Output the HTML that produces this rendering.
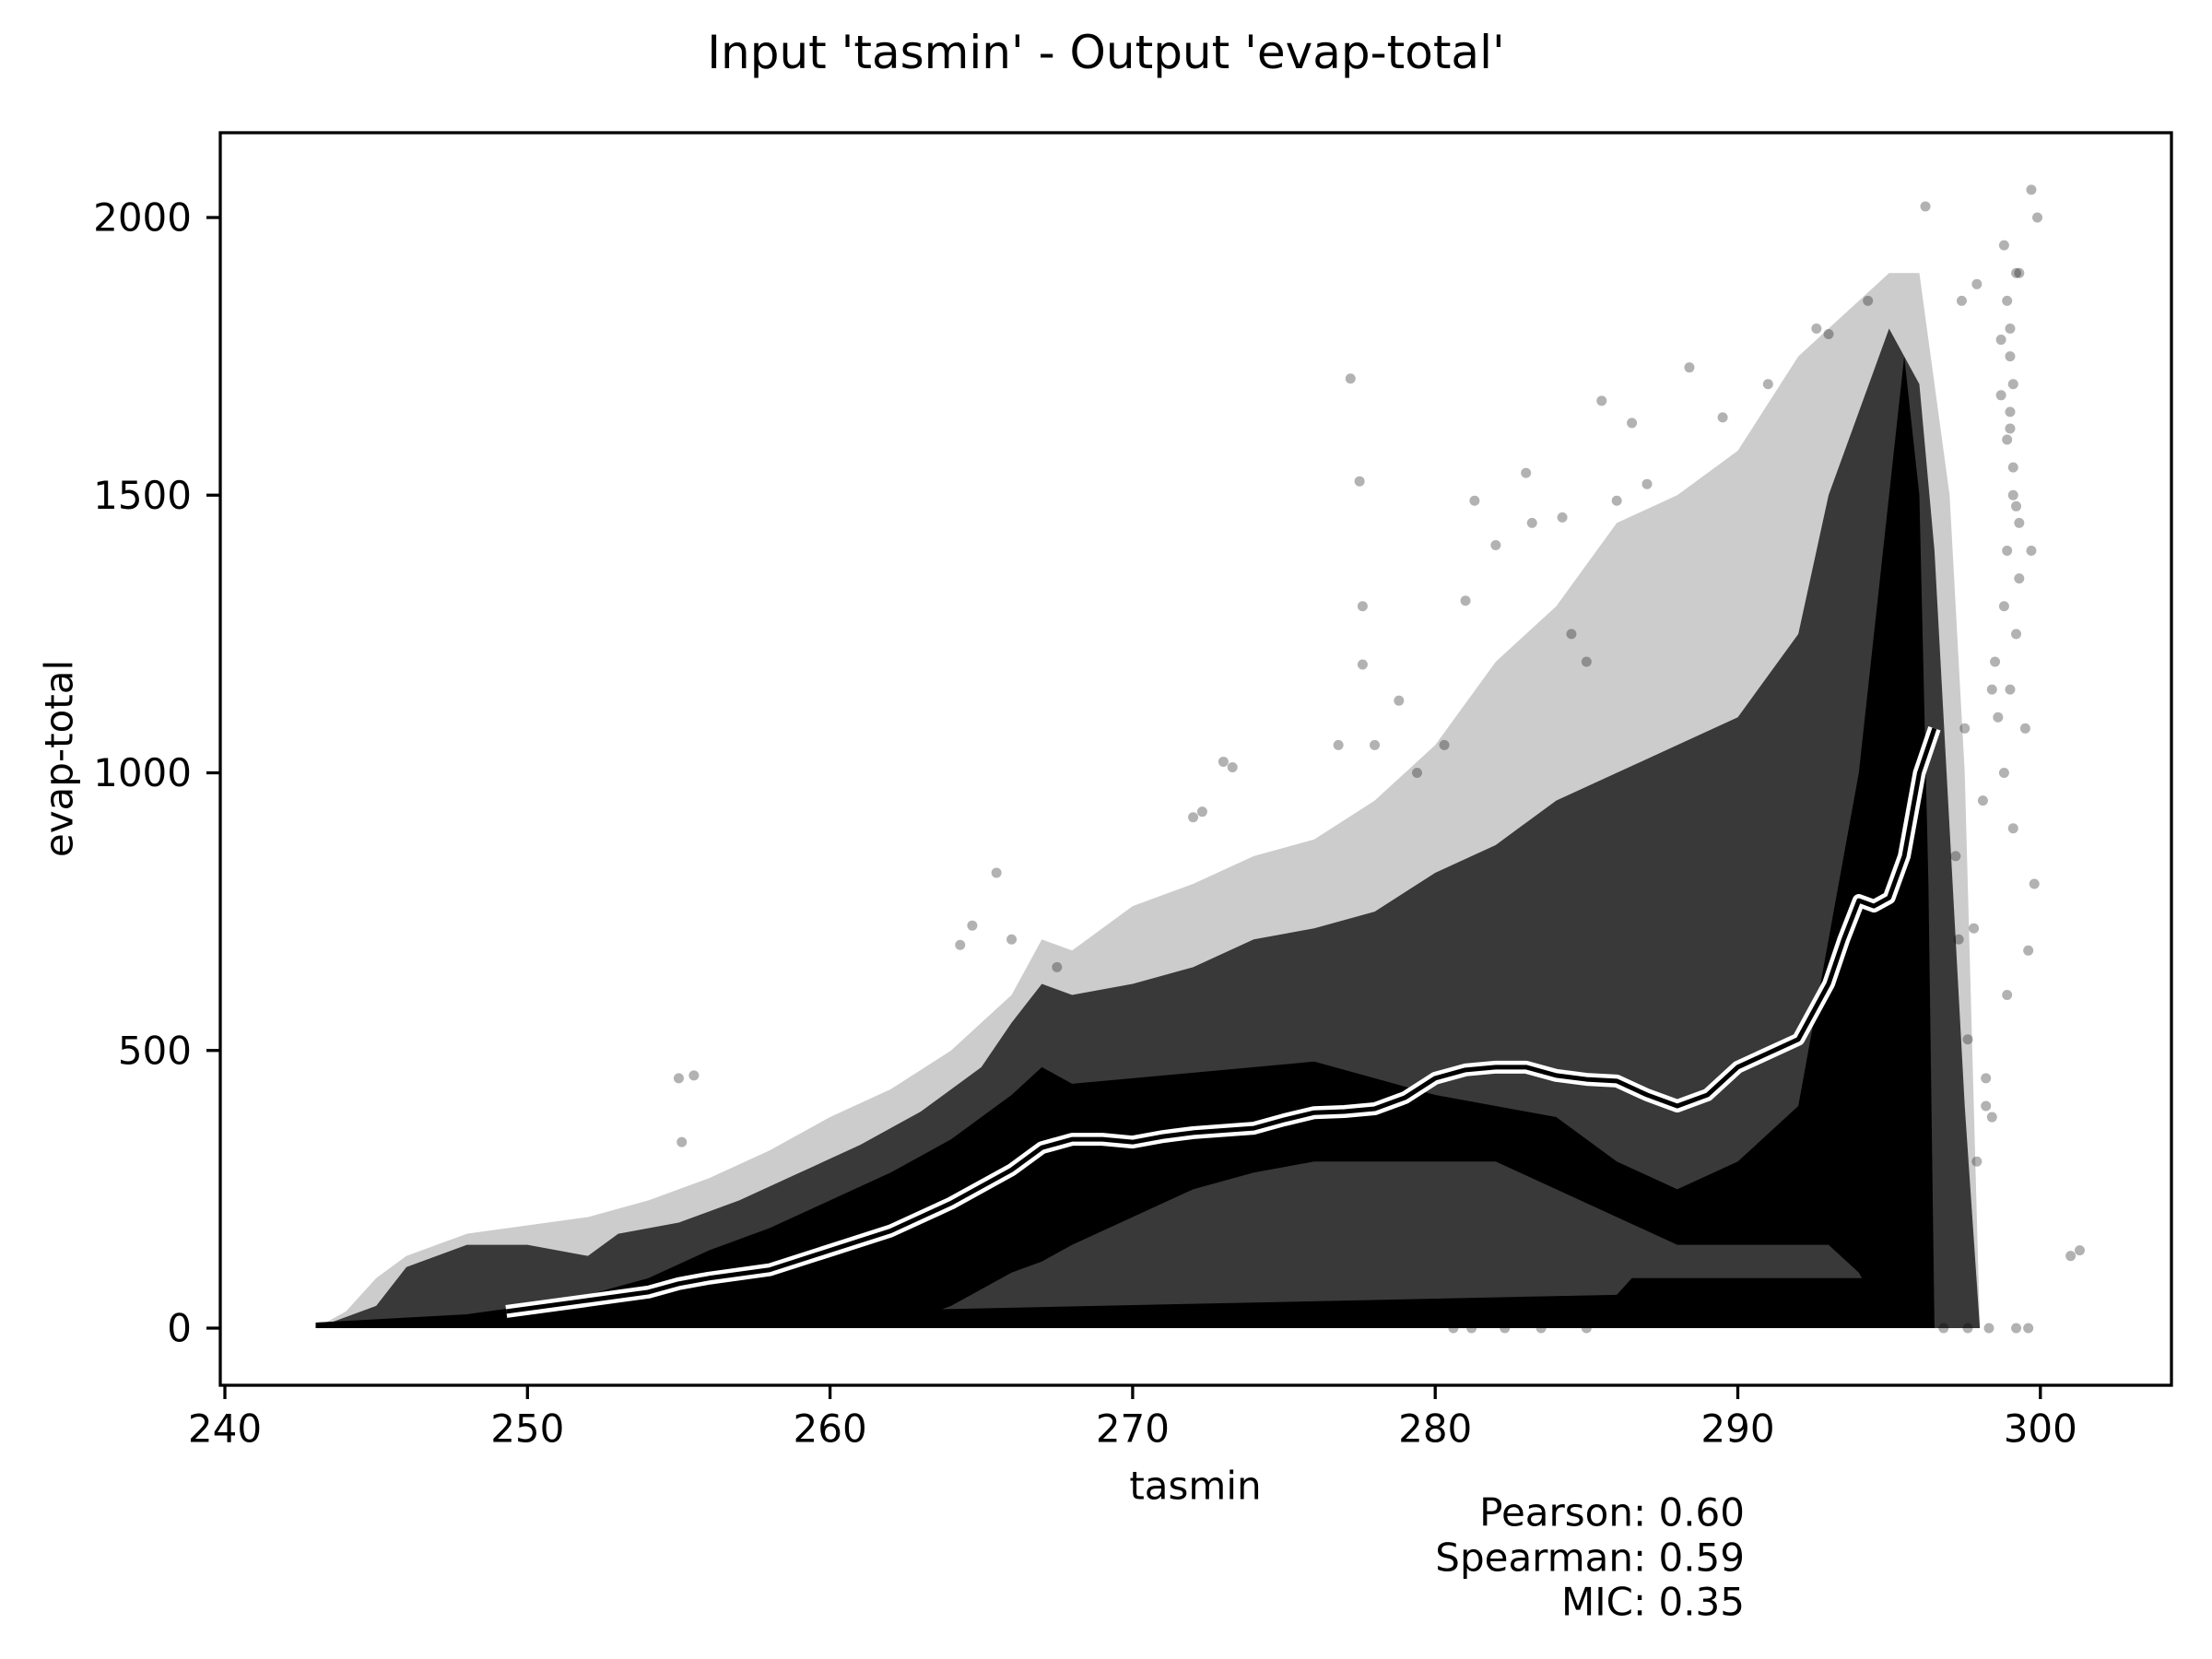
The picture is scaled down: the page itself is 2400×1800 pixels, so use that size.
<!DOCTYPE html>
<html><head><meta charset="utf-8"><style>
html,body{margin:0;padding:0;background:#fff;}
svg{display:block;font-family:"DejaVu Sans","Liberation Sans",sans-serif;}
</style></head><body>
<svg id="chart" width="2400" height="1800" viewBox="0 0 2400 1800" xmlns="http://www.w3.org/2000/svg">
<rect width="2400" height="1800" fill="#fff"/>
<text x="1200" y="57" font-size="50" text-anchor="middle" dominant-baseline="central">Input 'tasmin' - Output 'evap-total'</text>
<defs><clipPath id="clip"><rect x="239" y="144" width="2117" height="1359"/></clipPath></defs>
<g id="plot" clip-path="url(#clip)"></g>
<rect x="239" y="144" width="2117" height="1359" fill="none" stroke="#000" stroke-width="3.3"/>
<g id="axes"></g>
<text x="1297" y="1612" font-size="42" text-anchor="middle" dominant-baseline="central">tasmin</text>
<text x="64" y="823" font-size="42" text-anchor="middle" dominant-baseline="central" transform="rotate(-90 64 823)">evap-total</text>
<text x="1893" y="1641" font-size="42" text-anchor="end" dominant-baseline="central">Pearson: 0.60</text>
<text x="1893" y="1690" font-size="42" text-anchor="end" dominant-baseline="central">Spearman: 0.59</text>
<text x="1893" y="1738" font-size="42" text-anchor="end" dominant-baseline="central">MIC: 0.35</text>
</svg>
<script>
const xTicks = [240, 250, 260, 270, 280, 290, 300];
const yTicks = [0, 500, 1000, 1500, 2000];
// outer (sparse) envelope
const outerX = [243,244,245,246,248,250,252,254,256,258,260,262,264,266,267,268,270,272,274,276,278,280,282,284,286,288,290,292,294,295,296,297,297.5,298];
const outerY = [0,30,90,130,170,185,200,230,270,320,380,430,500,600,700,680,760,800,850,880,950,1050,1200,1300,1450,1500,1580,1750,1850,1900,1900,1500,1000,0];
// dense cloud envelope
const cloudX = [243,245,246,248,250,252,253,255,257,259,261,263,265,266,267,268,270,272,274,276,278,280,282,284,286,288,290,292,293,294,295,296,296.5,297,297.5,298];
const cloudY = [0,40,110,150,150,130,170,190,230,280,330,390,470,550,620,600,620,650,700,720,750,820,870,950,1000,1050,1100,1250,1500,1650,1800,1700,1400,900,400,0];
// solid core upper/lower
const coreX = [243,248,250,252,254,256,258,260,262,264,266,267,268,270,272,274,276,278,280,282,284,286,288,290,292,293,294,295,295.5,296,296.3,296.5];
const coreTop = [10,25,40,60,90,140,180,230,280,340,420,470,440,450,460,470,480,450,420,400,380,300,250,300,400,700,1000,1500,1750,1500,800,0];
const coreBottom = [0,0,0,0,0,0,0,0,0,40,100,120,150,200,250,280,300,300,300,300,250,200,150,150,150,150,100,0,0,0,0,0];
// near-zero band
const bandX = [243, 286, 286.5, 295.5, 296];
const bandY = [10, 60, 90, 90, 0];
// smoothed trend line
const trendX = [249.3,252,254,255,256,258,260,262,264,266,267,268,269,270,271,272,274,275,276,277,278,279,280,281,282,283,284,285,286,287,288,289,290,291,292,293,293.5,294,294.5,295,295.5,296,296.5];
const trendY = [30,50,65,80,90,105,140,175,225,285,325,340,340,335,345,352,360,375,388,390,395,415,450,465,470,470,455,448,445,420,400,420,470,495,520,620,700,770,760,775,850,1000,1080];
// outlier points
const ptX = [277.2,277.5,277.6,277.6,288.4,296.2,299.7,299.9,301,301.3,264.7,264.3,255,255.5,255.1,273,273.3,272,272.3,276.8,278,278.8,281.3,281,282,283,283.2,284.2,285.5,286.5,286,287,284.5,285,289.5,291,292.6,293,294.3,297.4,297.9,298.8,299.2,299.3,299.7,299.5,299.8,299.6,298.4,298.2,297.8,297.5,298.7,298.9,299,299.1,298.5,279.4,280.3,265.5,266,267.5,280.6,281.2,282.3,283.5,285,296.8,297.6,298.3,299.2,299.6,298.9,299,299.1,298.8,298.6,299.3,299,299.1,298.9,299.2,299,298.8,299.1,299.3,298.7,299,299.2,298.9,297.2,297.6,298.1,297.9,298.4,297.3,298.2,297.7];
const ptY = [1710,1525,1300,1195,1730,2020,2050,2000,130,140,725,690,450,455,335,1020,1010,920,930,1050,1050,1130,1490,1310,1410,1540,1450,1460,1670,1630,1490,1520,1250,1200,1640,1700,1800,1790,1850,1850,1880,1950,1900,1450,1400,1080,800,680,380,450,720,1080,1680,1600,1800,1700,1200,1000,1050,820,700,650,0,0,0,0,0,0,0,0,0,0,1850,1750,1550,1300,1100,1900,1650,1500,1400,1250,1150,1000,900,1350,1780,1620,1480,600,850,520,950,300,1150,700,400];

const NS = 'http://www.w3.org/2000/svg';
const X0 = 244, XS = 32.83, Y0 = 1441, YS = 0.6025;
function xs(v){ return X0 + (v - 240) * XS; }
function ys(v){ return Y0 - v * YS; }
const plot = document.getElementById('plot');
const axes = document.getElementById('axes');

function poly(xArr, topArr, botArr, fill, name){
  let pts = xArr.map((x,i)=>xs(x)+','+ys(topArr[i]));
  for (let i = xArr.length-1; i >= 0; i--) pts.push(xs(xArr[i])+','+ys(botArr ? botArr[i] : 0));
  const p = document.createElementNS(NS,'polygon');
  p.setAttribute('points', pts.join(' '));
  p.setAttribute('fill', fill);
  
  
  plot.appendChild(p);
}
poly(outerX, outerY, null, 'rgba(0,0,0,0.2)', 'outer-scatter-region');
poly(cloudX, cloudY, null, 'rgba(0,0,0,0.72)', 'dense-scatter-region');
poly(coreX, coreTop, coreBottom, '#000', 'core-scatter-region');
poly(bandX, bandY, null, '#000', 'zero-band-region');

ptX.forEach((x,i)=>{
  const c = document.createElementNS(NS,'circle');
  c.setAttribute('cx', xs(x));
  c.setAttribute('cy', ys(ptY[i]));
  c.setAttribute('r', 5.5);
  c.setAttribute('fill', 'rgba(0,0,0,0.3)');
  
  
  plot.appendChild(c);
});

const d = trendX.map((x,i)=>(i?'L':'M')+xs(x)+','+ys(trendY[i])).join(' ');
const w = document.createElementNS(NS,'path');
w.setAttribute('d', d);
w.setAttribute('fill','none'); w.setAttribute('stroke','#fff'); w.setAttribute('stroke-width','14'); w.setAttribute('stroke-linejoin','round');


plot.appendChild(w);
const b = document.createElementNS(NS,'path');
b.setAttribute('d', d);
b.setAttribute('fill','none'); b.setAttribute('stroke','#000'); b.setAttribute('stroke-width','5'); b.setAttribute('stroke-linejoin','round');


plot.appendChild(b);

xTicks.forEach(t=>{
  const l = document.createElementNS(NS,'line');
  l.setAttribute('x1', xs(t)); l.setAttribute('x2', xs(t));
  l.setAttribute('y1', 1503); l.setAttribute('y2', 1518);
  l.setAttribute('stroke','#000'); l.setAttribute('stroke-width','3.3');
  
  
  axes.appendChild(l);
  const tx = document.createElementNS(NS,'text');
  tx.setAttribute('x', xs(t)); tx.setAttribute('y', 1550);
  tx.setAttribute('font-size','42'); tx.setAttribute('text-anchor','middle'); tx.setAttribute('dominant-baseline','central');
  tx.textContent = t;
  
  
  axes.appendChild(tx);
});
yTicks.forEach(t=>{
  const l = document.createElementNS(NS,'line');
  l.setAttribute('x1', 224); l.setAttribute('x2', 239);
  l.setAttribute('y1', ys(t)); l.setAttribute('y2', ys(t));
  l.setAttribute('stroke','#000'); l.setAttribute('stroke-width','3.3');
  
  
  axes.appendChild(l);
  const tx = document.createElementNS(NS,'text');
  tx.setAttribute('x', 208); tx.setAttribute('y', ys(t));
  tx.setAttribute('font-size','42'); tx.setAttribute('text-anchor','end'); tx.setAttribute('dominant-baseline','central');
  tx.textContent = t;
  
  
  axes.appendChild(tx);
});
</script>
</body></html>
